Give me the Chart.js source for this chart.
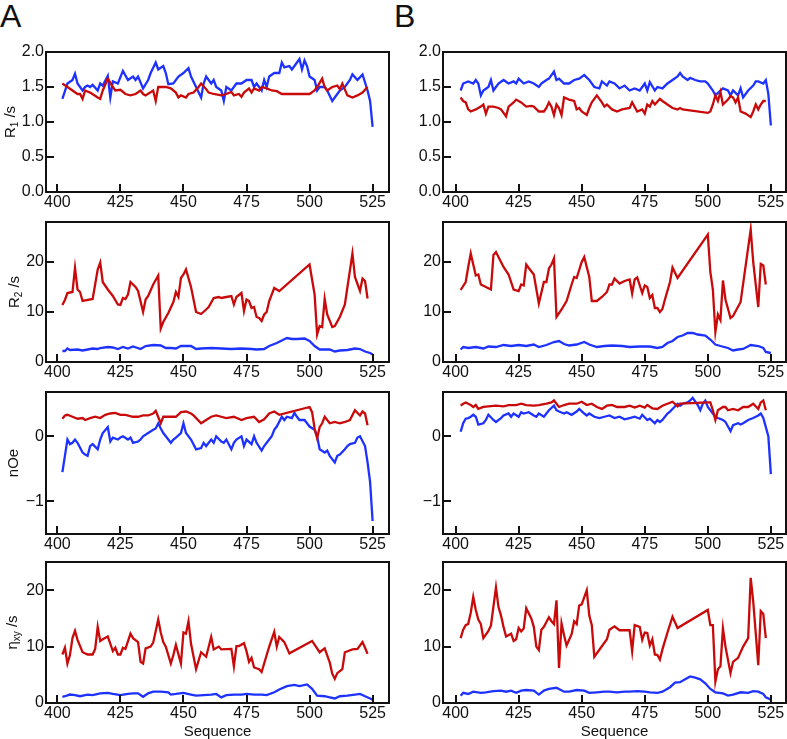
<!doctype html>
<html lang="en">
<head>
<meta charset="utf-8">
<title>Relaxation profiles</title>
<script src="https://cdn.jsdelivr.net/npm/chart.js@4.4.1/dist/chart.umd.min.js"></script>
<style>
  body { margin: 0; background: #fff; }
  #wrap { position: relative; width: 787px; height: 739px; overflow: hidden; font-family: "Liberation Sans", Arial, sans-serif; }
  #wrap canvas { position: absolute; }
  .tag { position: absolute; top: 0; font-size: 32px; line-height: 32px; color: #111; }
</style>
</head>
<body>
<div id="wrap">
  <div class="tag" style="left:0px">A</div>
  <div class="tag" style="left:394px">B</div>
</div>
<script>
// values: [residue, value]
const r1A_blue = [[402,1.33],[404,1.55],[406,1.6],[407,1.69],[408,1.55],[410,1.45],[411,1.5],[412,1.52],[413,1.5],[414,1.53],[416,1.45],[417,1.55],[418,1.52],[420,1.66],[421,1.35],[422,1.58],[424,1.55],[426,1.73],[428,1.6],[430,1.65],[431,1.6],[432,1.65],[434,1.48],[436,1.6],[437,1.7],[439,1.85],[440,1.75],[442,1.8],[443,1.7],[444,1.54],[446,1.55],[448,1.65],[450,1.7],[452,1.77],[453,1.65],[455,1.5],[457,1.35],[458,1.55],[459,1.65],[461,1.55],[462,1.6],[463,1.5],[465,1.45],[466,1.3],[467,1.5],[469,1.45],[471,1.55],[473,1.55],[475,1.6],[477,1.6],[478,1.5],[479,1.55],[481,1.45],[482,1.6],[483,1.5],[484,1.65],[486,1.7],[488,1.7],[489,1.85],[490,1.78],[492,1.8],[493,1.75],[494,1.8],[496,1.9],[497,1.75],[498,1.88],[499,1.8],[500,1.65],[502,1.6],[503,1.45],[504,1.5],[506,1.5],[507,1.45],[509,1.3],[511,1.4],[512,1.45],[514,1.5],[516,1.6],[517,1.68],[519,1.6],[521,1.68],[523,1.45],[524,1.3],[525,0.93]];
const r1A_red = [[402,1.55],[404,1.5],[406,1.45],[408,1.4],[409,1.4],[410,1.33],[411,1.45],[413,1.42],[416,1.35],[417,1.33],[418,1.45],[420,1.62],[422,1.5],[423,1.45],[425,1.46],[427,1.4],[429,1.38],[431,1.4],[433,1.45],[434,1.4],[435,1.38],[438,1.45],[439,1.3],[440,1.5],[443,1.5],[445,1.48],[447,1.42],[448,1.35],[449,1.38],[451,1.35],[452,1.4],[454,1.42],[456,1.5],[457,1.55],[459,1.47],[460,1.42],[462,1.4],[465,1.38],[467,1.4],[469,1.43],[470,1.38],[472,1.4],[473,1.36],[474,1.42],[476,1.48],[477,1.42],[478,1.48],[480,1.45],[481,1.5],[483,1.48],[485,1.45],[487,1.44],[489,1.4],[500,1.4],[502,1.45],[503,1.5],[505,1.62],[506,1.5],[507,1.45],[509,1.5],[511,1.52],[512,1.47],[513,1.55],[515,1.38],[517,1.35],[519,1.38],[521,1.42],[523,1.5]];
const r1B_blue = [[402,1.45],[403,1.55],[405,1.58],[407,1.55],[408,1.6],[409,1.55],[410,1.38],[411,1.45],[413,1.5],[414,1.6],[415,1.45],[416,1.5],[417,1.55],[419,1.6],[421,1.55],[423,1.58],[424,1.55],[425,1.62],[427,1.55],[429,1.58],[431,1.55],[433,1.5],[434,1.55],[436,1.6],[437,1.62],[439,1.72],[440,1.6],[441,1.62],[443,1.55],[445,1.55],[447,1.6],[449,1.62],[451,1.67],[453,1.6],[455,1.5],[457,1.48],[458,1.58],[460,1.52],[461,1.58],[463,1.55],[465,1.48],[467,1.52],[469,1.45],[471,1.48],[473,1.45],[474,1.5],[475,1.55],[476,1.45],[477,1.57],[479,1.45],[480,1.5],[482,1.48],[484,1.55],[486,1.6],[488,1.65],[489,1.7],[490,1.65],[492,1.6],[493,1.63],[495,1.6],[497,1.58],[499,1.58],[500,1.55],[502,1.45],[503,1.38],[505,1.45],[506,1.48],[508,1.45],[509,1.38],[510,1.45],[512,1.38],[513,1.48],[514,1.35],[516,1.45],[518,1.52],[519,1.58],[520,1.58],[522,1.55],[523,1.6],[524,1.4],[525,0.95]];
const r1B_red = [[402,1.35],[403,1.3],[404,1.28],[405,1.18],[406,1.15],[408,1.18],[410,1.22],[411,1.25],[412,1.12],[413,1.22],[415,1.22],[417,1.2],[418,1.18],[420,1.08],[421,1.22],[423,1.28],[424,1.32],[426,1.28],[428,1.22],[430,1.23],[431,1.22],[433,1.15],[435,1.15],[436,1.2],[437,1.28],[438,1.22],[439,1.1],[440,1.25],[441,1.2],[442,1.1],[443,1.35],[445,1.32],[447,1.3],[448,1.18],[449,1.2],[450,1.15],[452,1.1],[453,1.2],[454,1.28],[456,1.38],[458,1.28],[459,1.22],[460,1.25],[462,1.18],[464,1.15],[466,1.18],[469,1.2],[470,1.28],[472,1.15],[474,1.18],[475,1.12],[476,1.25],[477,1.22],[478,1.3],[479,1.25],[481,1.33],[482,1.3],[484,1.25],[486,1.2],[488,1.18],[489,1.2],[490,1.18],[500,1.13],[501,1.15],[502,1.25],[503,1.38],[504,1.3],[505,1.43],[506,1.25],[508,1.32],[509,1.37],[510,1.35],[511,1.28],[512,1.35],[513,1.15],[515,1.12],[517,1.07],[518,1.15],[519,1.25],[520,1.18],[521,1.25],[522,1.3],[523,1.3]];

const r2A_blue = [[402,2.2],[403,2.2],[404,2.7],[405,2.4],[408,2.5],[410,2.3],[412,2.5],[414,2.7],[416,2.6],[417,2.8],[420,3.0],[422,2.9],[424,2.6],[426,3.0],[428,2.7],[430,3.1],[433,2.6],[435,3.2],[438,3.4],[441,3.3],[443,2.8],[445,2.8],[447,2.7],[449,3.2],[453,3.2],[455,2.6],[457,2.7],[461,2.8],[465,2.7],[469,2.6],[473,2.7],[477,2.6],[479,2.5],[482,2.6],[484,3.2],[487,3.8],[489,4.3],[491,4.8],[493,4.6],[495,4.6],[498,4.7],[500,4.2],[502,3.2],[504,2.5],[508,2.5],[510,2.1],[512,2.3],[515,2.4],[518,2.7],[520,2.6],[522,2.1],[524,1.8],[525,1.5]];
const r2A_red = [[402,11.4],[403,12.4],[404,13.8],[406,14],[407,18.8],[408,14.5],[409,14],[410,12.2],[414,12.6],[416,18.5],[417,19.9],[418,16],[420,14.5],[422,13.2],[424,11.5],[425,11.4],[426,12.8],[427,12.6],[428,13.5],[429,16],[431,15],[432,14.2],[434,10],[435,12.5],[436,13.2],[438,15.5],[440,17.3],[441,6.7],[442,8],[444,9.8],[446,12],[447,14],[448,13],[449,16.8],[450,17.5],[451,18.5],[453,15],[455,10],[457,9.6],[459,10.5],[460,11],[462,12.8],[464,13],[465,12.8],[467,13],[469,13.2],[470,11.5],[471,13],[473,13.8],[474,10.2],[475,12.5],[476,12.2],[477,10.8],[478,11],[479,9],[480,8.8],[481,8.2],[482,9.5],[483,10],[484,12.2],[486,14.8],[488,14.2],[500,19.5],[502,13.5],[503,5.5],[504,7.2],[505,7],[506,12.6],[507,9.5],[509,7],[510,7.2],[512,9],[514,11.5],[517,21.7],[518,17],[520,14.2],[521,16.7],[522,16.2],[523,12.7]];
const r2B_blue = [[402,2.5],[403,3.0],[405,2.8],[408,3.0],[411,2.7],[413,3.1],[416,3.0],[419,3.4],[422,3.2],[425,3.4],[428,3.2],[431,3.5],[433,3.0],[436,3.4],[439,4.0],[441,4.2],[443,3.6],[445,3.3],[448,3.5],[451,4.0],[453,3.5],[456,3.0],[459,3.2],[462,3.3],[466,3.2],[469,3.0],[473,3.1],[477,3.1],[480,2.8],[482,3.0],[484,3.8],[486,4.2],[488,5.0],[490,5.3],[492,5.8],[494,5.8],[496,5.5],[499,5.3],[501,4.5],[503,3.5],[505,3.2],[508,2.8],[510,2.3],[512,2.5],[514,2.6],[517,3.4],[520,3.2],[522,2.8],[523,2.0],[525,1.8]];
const r2B_red = [[402,14.4],[404,16],[405,19],[406,21.7],[407,19.5],[408,17.3],[409,17.5],[410,15.5],[414,14.5],[415,21.4],[416,22],[418,20],[419,19],[421,17.5],[423,14.5],[425,14.2],[426,15.5],[427,15.3],[428,19.5],[429,18.8],[431,17.5],[433,11.7],[435,16],[436,16],[437,18.7],[438,19.5],[439,20.7],[440,9],[442,10.5],[444,12.2],[446,15.5],[447,17],[448,16.8],[450,20],[451,21],[453,17],[454,12.2],[456,12.2],[458,13],[460,14],[461,15.5],[462,15.5],[463,16.7],[465,15.7],[467,16.2],[469,16.5],[470,13.7],[471,16.5],[472,16.9],[474,13.8],[475,15.3],[476,15],[477,12.8],[478,13.4],[479,10.8],[480,10.8],[481,10],[482,10.6],[483,12.5],[485,16],[486,18.9],[488,16.8],[500,25.5],[501,18],[502,14.5],[503,6],[504,9.5],[505,8.4],[506,16.3],[507,12.5],[509,8.8],[510,9.2],[513,12],[517,26.5],[518,20],[520,11],[521,19.6],[522,19.3],[523,15.5]];

const noeA_blue = [[402,-0.55],[403,-0.3],[404,-0.05],[405,-0.12],[406,-0.1],[407,-0.05],[408,-0.1],[410,-0.25],[411,-0.28],[412,-0.3],[413,-0.15],[414,-0.12],[416,-0.2],[417,-0.05],[418,0.05],[420,0.14],[421,-0.08],[422,-0.02],[424,-0.05],[425,-0.02],[426,0],[428,-0.05],[429,-0.02],[430,-0.1],[432,-0.08],[433,-0.05],[434,0],[436,0.05],[438,0.1],[439,0.12],[440,0.2],[441,0.12],[442,0.05],[444,-0.05],[445,-0.1],[446,-0.05],[447,-0.02],[449,0.05],[450,0.2],[451,0.05],[453,-0.05],[455,-0.2],[457,-0.18],[458,-0.1],[459,-0.15],[461,-0.05],[462,-0.1],[463,0],[465,-0.08],[466,-0.1],[467,-0.05],[469,-0.2],[470,-0.1],[471,-0.05],[473,0],[474,-0.15],[475,-0.05],[477,-0.12],[478,0],[479,-0.1],[481,-0.22],[482,-0.15],[483,-0.1],[485,0],[486,0.1],[487,0.15],[489,0.3],[490,0.25],[491,0.3],[493,0.28],[494,0.36],[495,0.3],[496,0.25],[498,0.25],[499,0.2],[500,0.15],[502,0.1],[503,0],[504,-0.2],[506,-0.25],[507,-0.22],[508,-0.3],[510,-0.4],[511,-0.3],[512,-0.28],[514,-0.2],[515,-0.15],[516,-0.12],[518,-0.1],[519,-0.02],[520,0],[522,-0.15],[523,-0.4],[524,-0.7],[525,-1.3]];
const noeA_red = [[402,0.27],[403,0.32],[404,0.33],[406,0.3],[408,0.27],[410,0.28],[411,0.25],[413,0.28],[415,0.3],[417,0.28],[419,0.33],[421,0.35],[423,0.36],[425,0.33],[427,0.33],[430,0.3],[432,0.3],[434,0.32],[436,0.32],[438,0.35],[439,0.39],[441,0.2],[442,0.3],[445,0.3],[447,0.3],[449,0.37],[451,0.38],[453,0.35],[454,0.32],[457,0.2],[459,0.25],[461,0.3],[463,0.32],[465,0.3],[467,0.28],[470,0.3],[473,0.25],[475,0.28],[478,0.3],[479,0.26],[480,0.22],[482,0.26],[484,0.35],[486,0.38],[488,0.33],[500,0.45],[501,0.37],[502,0.12],[503,-0.03],[504,0.14],[505,0.2],[506,0.3],[508,0.2],[510,0.22],[512,0.2],[514,0.22],[516,0.25],[518,0.4],[520,0.32],[521,0.38],[522,0.35],[523,0.17]];
const noeB_blue = [[402,0.07],[403,0.2],[404,0.27],[405,0.28],[406,0.3],[407,0.33],[408,0.3],[409,0.18],[411,0.2],[412,0.25],[413,0.33],[415,0.25],[416,0.22],[418,0.28],[419,0.32],[421,0.35],[422,0.3],[423,0.35],[425,0.3],[426,0.37],[427,0.35],[429,0.37],[431,0.32],[432,0.3],[433,0.35],[435,0.3],[436,0.35],[437,0.4],[439,0.47],[440,0.4],[441,0.38],[443,0.35],[444,0.37],[446,0.33],[448,0.38],[449,0.42],[451,0.35],[452,0.32],[453,0.35],[455,0.3],[457,0.28],[459,0.3],[461,0.32],[463,0.28],[465,0.3],[467,0.26],[469,0.28],[471,0.3],[473,0.27],[474,0.33],[476,0.25],[477,0.27],[479,0.2],[480,0.25],[481,0.22],[482,0.25],[484,0.35],[485,0.38],[486,0.42],[488,0.5],[489,0.47],[490,0.5],[492,0.52],[493,0.55],[494,0.59],[496,0.48],[497,0.4],[498,0.5],[499,0.55],[500,0.45],[502,0.35],[503,0.3],[504,0.28],[506,0.25],[507,0.22],[508,0.15],[509,0.08],[510,0.17],[512,0.2],[513,0.18],[514,0.2],[516,0.25],[518,0.28],[520,0.32],[521,0.35],[522,0.28],[524,0.0],[525,-0.58]];
const noeB_red = [[402,0.47],[403,0.5],[404,0.52],[406,0.48],[407,0.45],[408,0.48],[409,0.42],[411,0.45],[413,0.46],[416,0.47],[419,0.46],[421,0.48],[424,0.48],[426,0.5],[428,0.48],[431,0.47],[433,0.48],[436,0.5],[438,0.52],[439,0.55],[441,0.45],[443,0.48],[445,0.5],[448,0.5],[450,0.53],[452,0.48],[454,0.5],[456,0.45],[458,0.42],[460,0.47],[462,0.48],[464,0.45],[467,0.45],[469,0.47],[471,0.44],[473,0.47],[475,0.44],[476,0.48],[478,0.43],[480,0.42],[482,0.47],[484,0.5],[486,0.53],[488,0.46],[489,0.5],[500,0.52],[501,0.52],[502,0.4],[503,0.25],[504,0.4],[506,0.45],[507,0.45],[508,0.4],[510,0.42],[512,0.4],[514,0.45],[516,0.45],[518,0.5],[520,0.42],[521,0.52],[522,0.55],[523,0.4]];

const etaA_blue = [[402,1.1],[403,1.2],[405,1.5],[407,1.4],[409,1.2],[412,1.5],[414,1.4],[417,1.7],[420,1.8],[422,1.6],[425,1.4],[428,1.6],[430,1.7],[432,1.7],[434,1.1],[436,1.7],[438,2.0],[441,2.0],[444,1.9],[445,1.5],[447,1.6],[450,1.8],[453,1.5],[455,1.3],[458,1.4],[461,1.5],[463,1.6],[465,1.0],[467,1.4],[470,1.5],[473,1.5],[475,1.6],[478,1.5],[481,1.5],[483,1.4],[486,1.9],[488,2.4],[491,3.0],[494,3.2],[496,3.0],[499,3.3],[501,2.5],[503,1.3],[506,1.2],[508,1.0],[510,0.8],[512,1.2],[515,1.3],[518,1.5],[520,1.6],[522,1.2],[524,0.8],[525,0.6]];
const etaA_red = [[402,8.6],[403,9.8],[404,7],[405,8.5],[406,11.5],[407,12.8],[408,11.2],[410,9],[412,8.6],[414,8.6],[415,9.6],[416,13.5],[417,11],[418,11.3],[420,11.8],[422,9.2],[423,9.8],[424,8.6],[425,8.6],[426,9.8],[427,9.6],[429,12.3],[430,11.5],[432,10.8],[433,7.3],[434,7],[435,9.7],[437,10],[438,10.7],[440,14.8],[441,12.5],[442,10.8],[443,10],[445,7],[446,8.5],[447,10.3],[449,7],[450,12.5],[451,12.3],[452,14.5],[453,10.5],[455,6],[457,9],[459,8.2],[461,11.7],[462,9.5],[464,10],[465,9.5],[469,9.6],[470,6.5],[471,10.1],[472,10.1],[474,10.6],[475,9.2],[476,7.3],[477,8],[478,6.3],[480,6],[481,5.5],[482,7],[484,10],[486,12.6],[487,10],[488,11.7],[490,10.8],[492,8.8],[501,11],[504,9],[506,9.7],[508,7.2],[509,5.2],[510,4.3],[511,5.3],[513,6],[514,9],[517,9.5],[519,9.6],[521,10.8],[522,9.8],[523,8.7]];
const etaB_blue = [[402,1.3],[403,1.8],[405,1.6],[407,2.0],[410,1.8],[412,1.9],[415,2.1],[418,2.2],[420,2.0],[422,2.2],[424,1.8],[426,2.2],[428,2.3],[431,2.2],[433,1.5],[435,2.2],[437,2.5],[440,2.7],[443,2.0],[445,2.0],[448,2.3],[451,2.2],[453,1.8],[456,1.9],[459,2.0],[461,2.0],[464,1.9],[467,2.0],[469,2.0],[472,2.1],[475,2.0],[477,1.9],[480,1.8],[482,2.0],[485,2.8],[487,3.6],[489,3.7],[491,4.2],[493,4.7],[495,4.5],[497,4.2],[499,3.5],[501,2.5],[503,1.9],[506,1.7],[508,1.3],[510,1.5],[513,1.9],[516,1.8],[518,2.1],[520,2.0],[522,1.6],[523,1.0],[525,0.6]];
const etaB_red = [[402,11.5],[403,13],[404,13.8],[405,14],[406,16],[407,18.8],[408,16.5],[409,14.8],[410,14],[411,11.5],[413,12.8],[414,13.7],[416,20.5],[417,17],[418,15.5],[419,13.5],[420,11.8],[422,12.3],[423,11],[424,11.3],[425,13.3],[426,12.7],[427,13.2],[428,16.8],[430,15],[431,13.5],[432,10],[433,9.4],[434,13],[435,13.5],[437,15.2],[438,14.5],[439,14],[440,18.2],[441,6.2],[442,14.1],[443,12],[444,10.2],[446,12.2],[447,14.5],[448,14],[449,17.3],[450,17.5],[452,20],[453,15.5],[454,13.8],[455,8.2],[460,11.3],[461,13],[463,13.6],[465,12.9],[469,12.9],[470,9.2],[471,13.8],[473,13.5],[474,11.2],[475,12.5],[476,12.4],[477,10.2],[478,11.3],[479,8.6],[480,8.5],[481,7.7],[482,9.5],[484,12.5],[486,15.3],[488,13.3],[500,16.5],[501,13.8],[502,13.8],[503,3.8],[504,6],[505,6.5],[506,13.2],[507,10],[509,5.3],[510,7.3],[512,8],[514,10],[516,11.5],[517,22.2],[518,18],[520,6.7],[521,16.3],[522,15.8],[523,11.5]];

const seqTicks = 25;

// layout of the 2 x 4 grid (page pixels)
const cols = [
  { l: 46, r: 389, xmin: 395.5, xmax: 531.5 },
  { l: 443, r: 786, xmin: 395, xmax: 531 }
];
const rows = [
  { t: 52, b: 192, min: 0, max: 2, step: 0.5, dec: 1, title: ['R', '1', ' /s'], tx: 14 },
  { t: 222, b: 362, min: 0, max: 28, step: 10, dec: 0, title: ['R', '2', ' /s'], tx: 18 },
  { t: 392, b: 534, min: -1.5, max: 0.68, step: 1, dec: 0, title: ['nOe', '', ''], tx: 17 },
  { t: 562, b: 703, min: 0, max: 25, step: 10, dec: 0, title: ['\u03b7', 'xy', ' /s'], tx: 16 }
];
const series = [
  [r1A_blue, r1A_red, r1B_blue, r1B_red],
  [r2A_blue, r2A_red, r2B_blue, r2B_red],
  [noeA_blue, noeA_red, noeB_blue, noeB_red],
  [etaA_blue, etaA_red, etaB_blue, etaB_red]
];

const BLUE = '#1e32ff', RED = '#c80a0a', INK = '#111';
const FONT = '"Liberation Sans", Arial, sans-serif';
const AXW = 45, PADT = 12, PADR = 4;

Chart.defaults.font.family = FONT;
Chart.defaults.font.size = 16;
Chart.defaults.color = INK;

// box, inward ticks, y title with subscript, x title
const frame = {
  id: 'frame',
  afterDatasetsDraw(chart, args, o) {
    const { ctx, chartArea: a } = chart;
    const sx = chart.scales.x, sy = chart.scales.y;
    ctx.save();
    ctx.strokeStyle = INK;
    ctx.lineWidth = 2;
    ctx.beginPath();
    sx.ticks.forEach(t => {
      const p = Math.round(sx.getPixelForValue(t.value));
      ctx.moveTo(p, a.bottom); ctx.lineTo(p, a.bottom - 8);
    });
    sy.ticks.forEach(t => {
      const p = Math.round(sy.getPixelForValue(t.value));
      ctx.moveTo(a.left, p); ctx.lineTo(a.left + 8, p);
    });
    ctx.stroke();
    ctx.strokeRect(a.left, a.top, a.right - a.left, a.bottom - a.top);

    ctx.fillStyle = INK;
    if (o.title) {
      const [main, sub, rest] = o.title;
      const big = '15px ' + FONT, small = '10px ' + FONT;
      ctx.save();
      ctx.translate(o.tx, (a.top + a.bottom) / 2);
      ctx.rotate(-Math.PI / 2);
      ctx.textAlign = 'left';
      ctx.textBaseline = 'alphabetic';
      ctx.font = big;
      const w1 = ctx.measureText(main).width, w3 = ctx.measureText(rest).width;
      ctx.font = small;
      const w2 = ctx.measureText(sub).width;
      const x0 = -(w1 + w2 + w3) / 2;
      ctx.font = big; ctx.fillText(main, x0, 0);
      ctx.font = small; ctx.fillText(sub, x0 + w1, 3);
      ctx.font = big; ctx.fillText(rest, x0 + w1 + w2, 0);
      ctx.restore();
    }
    if (o.xlabel) {
      ctx.font = '15px ' + FONT;
      ctx.textAlign = 'center';
      ctx.textBaseline = 'alphabetic';
      ctx.fillText(o.xlabel, (a.left + a.right) / 2, a.bottom + 33);
    }
    ctx.restore();
  }
};

const wrap = document.getElementById('wrap');

rows.forEach((row, ri) => {
  cols.forEach((col, ci) => {
    const last = ri === rows.length - 1;
    const axh = last ? 40 : 24;
    const cv = document.createElement('canvas');
    cv.width = col.r - col.l + AXW + PADR;
    cv.height = row.b - row.t + PADT + axh;
    cv.style.left = (col.l - AXW) + 'px';
    cv.style.top = (row.t - PADT) + 'px';
    wrap.appendChild(cv);

    const blue = series[ri][ci * 2], red = series[ri][ci * 2 + 1];
    const pts = arr => arr.map(([x, y]) => ({ x, y }));

    new Chart(cv, {
      type: 'line',
      data: {
        datasets: [
          { data: pts(red), borderColor: RED, borderWidth: 2.3, pointRadius: 0, tension: 0, order: 0 },
          { data: pts(blue), borderColor: BLUE, borderWidth: 2.3, pointRadius: 0, tension: 0, order: 1 }
        ]
      },
      options: {
        responsive: false,
        animation: false,
        events: [],
        layout: { padding: { top: PADT, right: PADR, left: 0, bottom: 0 } },
        plugins: {
          legend: { display: false },
          tooltip: { enabled: false },
          frame: {
            title: ci === 0 ? row.title : null,
            tx: row.tx,
            xlabel: last ? 'Sequence' : null
          }
        },
        scales: {
          x: {
            type: 'linear',
            min: col.xmin, max: col.xmax,
            grid: { display: false, drawTicks: false },
            border: { display: false },
            ticks: { stepSize: seqTicks, includeBounds: false, padding: 1, maxRotation: 0 },
            afterFit: s => { s.height = axh; }
          },
          y: {
            min: row.min, max: row.max,
            grid: { display: false, drawTicks: false },
            border: { display: false },
            ticks: {
              stepSize: row.step, includeBounds: false, padding: 2,
              callback: v => v.toFixed(row.dec).replace('-', '\u2212')
            },
            afterFit: s => { s.width = AXW; }
          }
        }
      },
      plugins: [frame]
    });
  });
});
</script>
</body>
</html>
